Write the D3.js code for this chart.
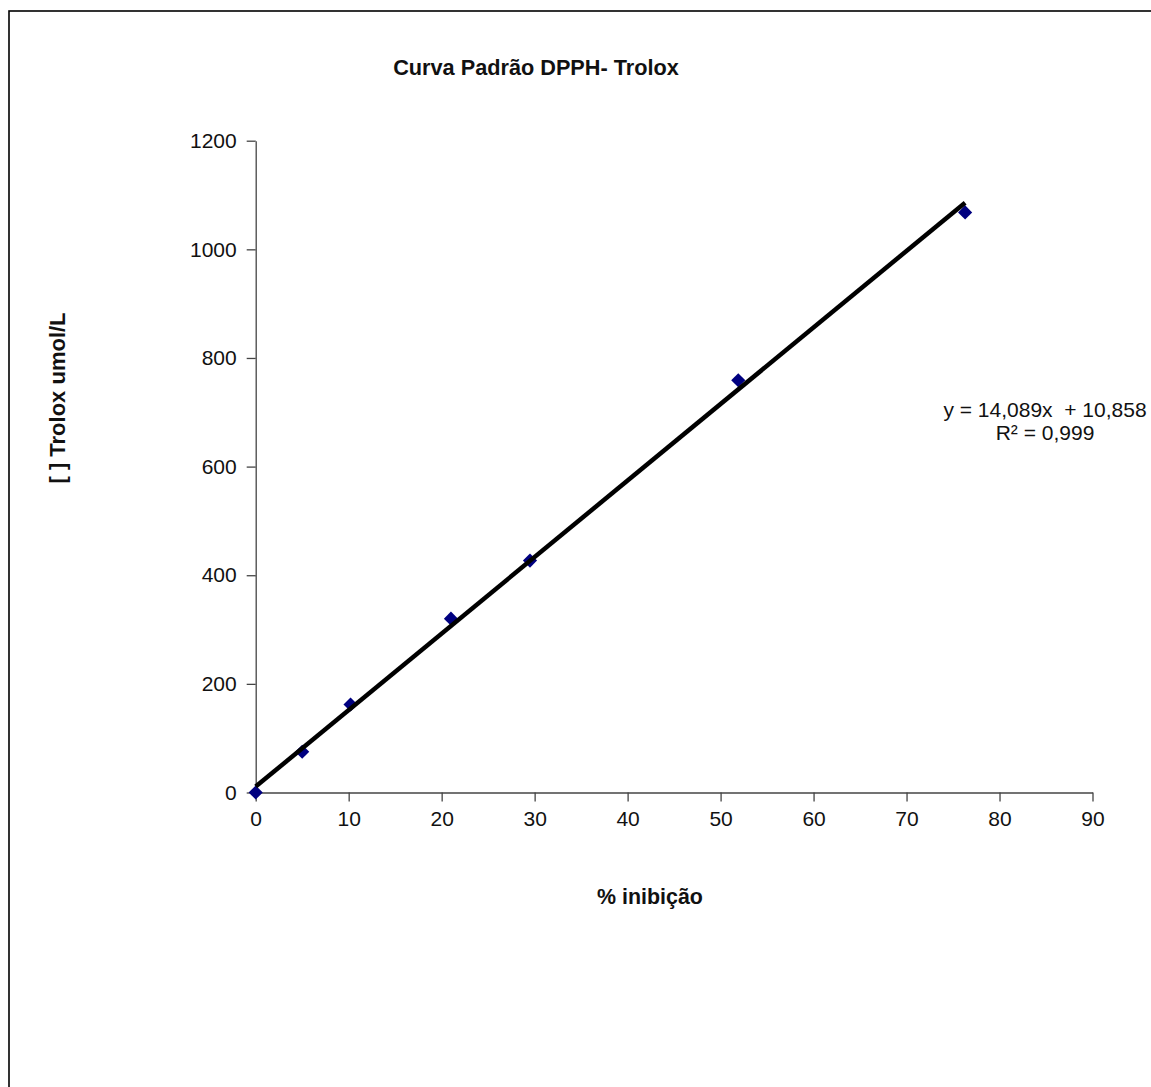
<!DOCTYPE html>
<html>
<head>
<meta charset="utf-8">
<script src="https://cdn.jsdelivr.net/npm/d3@7"></script>
<style>
    body { margin: 0; background: #fff; }
    svg { display: block; }
    text { font-family: "Liberation Sans", Arial, sans-serif; fill: #111; }
</style>
</head>
<body>
<svg width="1151" height="1087"></svg>
<script>
// values
let inhibition = [0, 5.0, 10.2, 21.0, 29.5, 51.9, 76.3];
let trolox = [0, 75, 162, 320, 427, 759, 1068];
let xTicks = [0, 10, 20, 30, 40, 50, 60, 70, 80, 90];
let yTicks = [0, 200, 400, 600, 800, 1000, 1200];
let trendCoef = [14.089, 10.858];   // slope, intercept
let equationLines = ["y = 14,089x  + 10,858", "R\u00b2 = 0,999"];

(function () {
    'use strict';

    let svg = d3.select("svg");

    // chart area border (right and bottom run off the picture)
    svg.append("rect")
        .attr("x", 9).attr("y", 11)
        .attr("width", 1170).attr("height", 1110)
        .attr("fill", "none")
        .attr("stroke", "#000")
        .attr("stroke-width", 1.6);

    let x = d3.scaleLinear().domain([0, 90]).range([255.7, 1092.5]),
        y = d3.scaleLinear().domain([0, 1200]).range([792.5, 140.7]);

    let xAxis = svg.append("g")
        .attr("transform", "translate(0," + y(0) + ")")
        .call(d3.axisBottom(x).tickValues(xTicks).tickFormat(d3.format("d"))
            .tickSize(9).tickSizeOuter(0).tickPadding(10));

    let yAxis = svg.append("g")
        .attr("transform", "translate(" + x(0) + ",0)")
        .call(d3.axisLeft(y).tickValues(yTicks).tickFormat(d3.format("d"))
            .tickSize(9).tickSizeOuter(0).tickPadding(10));

    [xAxis, yAxis].forEach(function (a) {
        a.select(".domain").attr("stroke", "#444").attr("stroke-width", 1.3);
        a.selectAll(".tick line").attr("stroke", "#444").attr("stroke-width", 1.3);
        a.selectAll(".tick text")
            .attr("fill", "#111")
            .style("font-family", "'Liberation Sans', Arial, sans-serif")
            .style("font-size", "21px");
    });

    let points = inhibition.map(function (d, i) {
        return {x: d, y: trolox[i]};
    });

    svg.selectAll(".point")
        .data(points)
        .enter().append("path")
        .attr("class", "point")
        .attr("d", d3.symbol().type(d3.symbolSquare).size(100))
        .attr("transform", function (d) {
            return "translate(" + x(d.x) + "," + y(d.y) + ") rotate(45)";
        })
        .attr("fill", "#000080");

    // linear trendline over the data range
    let xMax = d3.max(inhibition);
    let trend = [0, xMax].map(function (v) {
        return {x: v, y: trendCoef[0] * v + trendCoef[1]};
    });

    let line = d3.line()
        .x(function (d) { return x(d.x); })
        .y(function (d) { return y(d.y); });

    svg.append("path")
        .datum(trend)
        .attr("d", line)
        .attr("fill", "none")
        .attr("stroke", "#000")
        .attr("stroke-width", 4.5);

    // equation label, nudged left a little so it stays inside the picture
    svg.append("g")
        .selectAll("text")
        .data(equationLines)
        .enter().append("text")
        .attr("x", 1045)
        .attr("y", function (d, i) { return 417 + i * 23; })
        .attr("text-anchor", "middle")
        .style("font-size", "21px")
        .style("white-space", "pre")
        .text(function (d) { return d; });

    svg.append("text")
        .attr("x", 536)
        .attr("y", 75)
        .attr("text-anchor", "middle")
        .style("font-size", "21.7px")
        .style("font-weight", "bold")
        .text("Curva Padr\u00e3o DPPH- Trolox");

    svg.append("text")
        .attr("x", 650)
        .attr("y", 904)
        .attr("text-anchor", "middle")
        .style("font-size", "21.4px")
        .style("font-weight", "bold")
        .text("% inibi\u00e7\u00e3o");

    svg.append("text")
        .attr("transform", "translate(65,398) rotate(-90)")
        .attr("text-anchor", "middle")
        .style("font-size", "22px")
        .style("font-weight", "bold")
        .text("[ ] Trolox umol/L");
}());
</script>
</body>
</html>
